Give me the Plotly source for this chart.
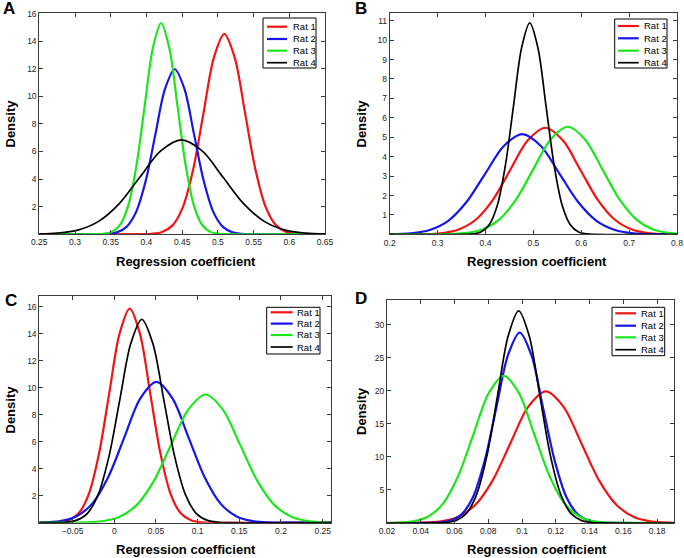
import plotly.graph_objects as go

W, H = 684, 558
FONT = "Arial, 'Liberation Sans', Helvetica, sans-serif"

rat_names = ["Rat 1", "Rat 2", "Rat 3", "Rat 4"]
rat_colors = ["#f01414", "#1616e8", "#1ee61e", "#000000"]
rat_widths = [2.2, 2.2, 2.2, 1.7]

panel_letters = ["A", "B", "C", "D"]
x_title = "Regression coefficient"
y_title = "Density"

# ---------------- Panel A ----------------
a_rat1_x = [0.25, 0.393, 0.4075, 0.422, 0.4365, 0.451, 0.4655, 0.480, 0.4945, 0.509, 0.5235, 0.538, 0.5525, 0.567, 0.5815, 0.596, 0.6105, 0.625, 0.65]
a_rat1_y = [0, 0.004, 0.03, 0.16, 0.64, 1.97, 4.72, 8.82, 12.83, 14.54, 12.83, 8.82, 4.72, 1.97, 0.64, 0.16, 0.03, 0.004, 0]
a_rat2_x = [0.25, 0.3316, 0.3451, 0.3586, 0.3721, 0.3856, 0.3991, 0.4126, 0.4261, 0.4396, 0.4531, 0.4666, 0.4801, 0.4936, 0.5071, 0.5206, 0.5341, 0.5476, 0.65]
a_rat2_y = [0, 0.004, 0.026, 0.13, 0.53, 1.62, 3.89, 7.26, 10.56, 11.97, 10.56, 7.26, 3.89, 1.62, 0.53, 0.13, 0.026, 0.004, 0]
a_rat3_x = [0.25, 0.3285, 0.340, 0.3515, 0.363, 0.3745, 0.386, 0.3975, 0.409, 0.4205, 0.432, 0.4435, 0.455, 0.4665, 0.478, 0.4895, 0.501, 0.5125, 0.65]
a_rat3_y = [0, 0.005, 0.034, 0.17, 0.67, 2.07, 4.97, 9.29, 13.51, 15.31, 13.51, 9.29, 4.97, 2.07, 0.67, 0.17, 0.034, 0.005, 0]
a_rat4_x = [0.25, 0.275, 0.304, 0.333, 0.362, 0.391, 0.420, 0.449, 0.478, 0.507, 0.536, 0.565, 0.594, 0.623, 0.65]
a_rat4_y = [0.02, 0.08, 0.30, 0.93, 2.22, 4.15, 6.04, 6.84, 6.04, 4.15, 2.22, 0.93, 0.30, 0.08, 0.02]
a_xrange = [0.25, 0.65]
a_yrange = [0, 16.05]
a_xticks = [0.25, 0.3, 0.35, 0.4, 0.45, 0.5, 0.55, 0.6, 0.65]
a_xticktext = ["0.25", "0.3", "0.35", "0.4", "0.45", "0.5", "0.55", "0.6", "0.65"]
a_yticks = [2, 4, 6, 8, 10, 12, 14, 16]

# ---------------- Panel B ----------------
b_rat1_x = [0.2, 0.233, 0.2695, 0.306, 0.3425, 0.379, 0.4155, 0.452, 0.4885, 0.525, 0.5615, 0.598, 0.6345, 0.671, 0.7075, 0.744, 0.7805, 0.8]
b_rat1_y = [0, 0.002, 0.012, 0.06, 0.24, 0.74, 1.78, 3.33, 4.84, 5.49, 4.84, 3.33, 1.78, 0.74, 0.24, 0.06, 0.012, 0.005]
b_rat2_x = [0.2, 0.2448, 0.2835, 0.3222, 0.3609, 0.3996, 0.4383, 0.477, 0.5157, 0.5544, 0.5931, 0.6318, 0.6705, 0.7092, 0.7479, 0.7866, 0.8]
b_rat2_y = [0.01, 0.057, 0.23, 0.70, 1.68, 3.13, 4.55, 5.16, 4.55, 3.13, 1.68, 0.70, 0.23, 0.057, 0.011, 0.002, 0.001]
b_rat3_x = [0.2, 0.284, 0.320, 0.356, 0.392, 0.428, 0.464, 0.500, 0.536, 0.572, 0.608, 0.644, 0.680, 0.716, 0.752, 0.788, 0.8]
b_rat3_y = [0, 0.002, 0.012, 0.061, 0.24, 0.75, 1.80, 3.36, 4.89, 5.54, 4.89, 3.36, 1.80, 0.75, 0.24, 0.061, 0.037]
b_rat4_x = [0.2, 0.3565, 0.3735, 0.3905, 0.4075, 0.4245, 0.4415, 0.4585, 0.4755, 0.4925, 0.5095, 0.5265, 0.5435, 0.5605, 0.5775, 0.5945, 0.6115, 0.6285, 0.8]
b_rat4_y = [0, 0.003, 0.024, 0.12, 0.48, 1.47, 3.54, 6.60, 9.61, 10.89, 9.61, 6.60, 3.54, 1.47, 0.48, 0.12, 0.024, 0.003, 0]
b_xrange = [0.2, 0.8]
b_yrange = [0, 11.38]
b_xticks = [0.2, 0.3, 0.4, 0.5, 0.6, 0.7, 0.8]
b_xticktext = ["0.2", "0.3", "0.4", "0.5", "0.6", "0.7", "0.8"]
b_yticks = [1, 2, 3, 4, 5, 6, 7, 8, 9, 10, 11]

# ---------------- Panel C ----------------
c_rat1_x = [-0.09, -0.0795, -0.06725, -0.055, -0.04275, -0.0305, -0.01825, -0.006, 0.00625, 0.0185, 0.03075, 0.043, 0.05525, 0.0675, 0.07975, 0.092, 0.10425, 0.1165, 0.26]
c_rat1_y = [0, 0.005, 0.035, 0.18, 0.70, 2.14, 5.15, 9.61, 13.99, 15.85, 13.99, 9.61, 5.15, 2.14, 0.70, 0.18, 0.035, 0.005, 0]
c_rat2_x = [-0.09, -0.065, -0.04575, -0.0265, -0.00725, 0.012, 0.03125, 0.0505, 0.06975, 0.089, 0.10825, 0.1275, 0.14675, 0.166, 0.18525, 0.2045, 0.26]
c_rat2_y = [0.015, 0.12, 0.46, 1.41, 3.38, 6.32, 9.20, 10.42, 9.20, 6.32, 3.38, 1.41, 0.46, 0.12, 0.023, 0.003, 0]
c_rat3_x = [-0.09, -0.0565, -0.03575, -0.015, 0.00575, 0.0265, 0.04725, 0.068, 0.08875, 0.1095, 0.13025, 0.151, 0.17175, 0.1925, 0.21325, 0.234, 0.25475, 0.26]
c_rat3_y = [0, 0.003, 0.02, 0.105, 0.42, 1.28, 3.08, 5.76, 8.37, 9.49, 8.37, 5.76, 3.08, 1.28, 0.42, 0.105, 0.02, 0.013]
c_rat4_x = [-0.09, -0.0722, -0.05905, -0.0459, -0.03275, -0.0196, -0.00645, 0.0067, 0.01985, 0.033, 0.04615, 0.0593, 0.07245, 0.0856, 0.09875, 0.1119, 0.12505, 0.1382, 0.26]
c_rat4_y = [0, 0.005, 0.033, 0.17, 0.66, 2.04, 4.89, 9.13, 13.28, 15.05, 13.28, 9.13, 4.89, 2.04, 0.66, 0.17, 0.033, 0.005, 0]
c_xrange = [-0.09, 0.26]
c_yrange = [0, 16.76]
c_xticks = [-0.05, 0, 0.05, 0.1, 0.15, 0.2, 0.25]
c_xticktext = ["\u22120.05", "0", "0.05", "0.1", "0.15", "0.2", "0.25"]
c_yticks = [2, 4, 6, 8, 10, 12, 14, 16]

# ---------------- Panel D ----------------
d_rat1_x = [0.02, 0.0301, 0.0406, 0.0511, 0.0616, 0.0721, 0.0826, 0.0931, 0.1036, 0.1141, 0.1246, 0.1351, 0.1456, 0.1561, 0.1666, 0.1771, 0.1876, 0.19]
d_rat1_y = [0, 0.006, 0.044, 0.22, 0.87, 2.69, 6.46, 12.08, 17.57, 19.91, 17.57, 12.08, 6.46, 2.69, 0.87, 0.22, 0.044, 0.029]
d_rat2_x = [0.02, 0.0432, 0.0502, 0.0571, 0.0640, 0.0709, 0.0778, 0.0848, 0.0917, 0.0986, 0.1055, 0.1124, 0.1194, 0.1263, 0.1332, 0.1401, 0.1470, 0.1540, 0.19]
d_rat2_y = [0, 0.009, 0.063, 0.32, 1.27, 3.90, 9.36, 17.49, 25.44, 28.83, 25.44, 17.49, 9.36, 3.90, 1.27, 0.32, 0.063, 0.009, 0]
d_rat3_x = [0.02, 0.02655, 0.0355, 0.04445, 0.0534, 0.06235, 0.0713, 0.08025, 0.0892, 0.09815, 0.1071, 0.11605, 0.1250, 0.13395, 0.1429, 0.15185, 0.1608, 0.19]
d_rat3_y = [0.013, 0.049, 0.25, 0.98, 3.01, 7.23, 13.51, 19.66, 22.28, 19.66, 13.51, 7.23, 3.01, 0.98, 0.25, 0.049, 0.007, 0]
d_rat4_x = [0.02, 0.0483, 0.0545, 0.0607, 0.0669, 0.0731, 0.0794, 0.0856, 0.0918, 0.098, 0.1042, 0.1104, 0.1166, 0.1229, 0.1291, 0.1353, 0.1415, 0.1477, 0.19]
d_rat4_y = [0, 0.01, 0.07, 0.36, 1.41, 4.34, 10.42, 19.47, 28.33, 32.1, 28.33, 19.47, 10.42, 4.34, 1.41, 0.36, 0.07, 0.01, 0]
d_xrange = [0.02, 0.19]
d_yrange = [0, 33.8]
d_xticks = [0.02, 0.04, 0.06, 0.08, 0.1, 0.12, 0.14, 0.16, 0.18]
d_xticktext = ["0.02", "0.04", "0.06", "0.08", "0.1", "0.12", "0.14", "0.16", "0.18"]
d_yticks = [5, 10, 15, 20, 25, 30]

panels = [
    dict(xs=[a_rat1_x, a_rat2_x, a_rat3_x, a_rat4_x], ys=[a_rat1_y, a_rat2_y, a_rat3_y, a_rat4_y],
         xr=a_xrange, yr=a_yrange, xt=a_xticks, xtt=a_xticktext, yt=a_yticks),
    dict(xs=[b_rat1_x, b_rat2_x, b_rat3_x, b_rat4_x], ys=[b_rat1_y, b_rat2_y, b_rat3_y, b_rat4_y],
         xr=b_xrange, yr=b_yrange, xt=b_xticks, xtt=b_xticktext, yt=b_yticks),
    dict(xs=[c_rat1_x, c_rat2_x, c_rat3_x, c_rat4_x], ys=[c_rat1_y, c_rat2_y, c_rat3_y, c_rat4_y],
         xr=c_xrange, yr=c_yrange, xt=c_xticks, xtt=c_xticktext, yt=c_yticks),
    dict(xs=[d_rat1_x, d_rat2_x, d_rat3_x, d_rat4_x], ys=[d_rat1_y, d_rat2_y, d_rat3_y, d_rat4_y],
         xr=d_xrange, yr=d_yrange, xt=d_xticks, xtt=d_xticktext, yt=d_yticks),
]

# Layout geometry in pixels: plot box (left, right, top, bottom)
boxes = [(39.3, 325.0, 13.0, 234.2), (389.7, 677.0, 13.3, 234.4),
         (39.3, 331.0, 296.3, 522.7), (387.0, 674.0, 299.7, 523.0)]
letter_pos = [(9, 8), (361, 8), (11, 300), (361, 298)]
xtitle_pos = [(186, 261), (537, 261), (186, 549), (537, 549)]
ytitle_pos = [(10, 123.5), (361, 123.5), (10, 409.5), (361, 411)]
# legend box (left, right, top, bottom), sample x0, x1, text x, row ys
legends = [
    (263, 316, 18, 68, 267, 287, 291, [26.7, 39.0, 50.7, 62.7]),
    (614.7, 667, 19, 68, 618, 638.7, 642, [26.0, 38.3, 50.7, 62.7]),
    (266.7, 320, 307.3, 354, 270.7, 292.7, 294.5, [312.3, 323.6, 335.0, 347.0]),
    (612, 664.7, 307.3, 355.7, 615.3, 636, 639, [313.3, 325.7, 337.3, 349.7]),
]


def px(x):
    return x / W


def py(y):
    return 1 - y / H


fig = go.Figure()
layout_axes = {}
for i, p in enumerate(panels):
    suf = "" if i == 0 else str(i + 1)
    for j in range(4):
        fig.add_trace(go.Scatter(
            x=p["xs"][j], y=p["ys"][j], mode="lines", name=rat_names[j],
            line=dict(color=rat_colors[j], width=rat_widths[j], shape="spline", smoothing=0.9),
            xaxis="x" + suf, yaxis="y" + suf, showlegend=False, hoverinfo="skip"))
    l, r, t, b = boxes[i]
    common = dict(showline=True, linecolor="#3a3a3a", linewidth=1, mirror="ticks",
                  ticks="inside", ticklen=4, tickcolor="#3a3a3a", tickwidth=1,
                  showgrid=False, zeroline=False, automargin=False, fixedrange=True,
                  tickfont=dict(family=FONT, size=8.5, color="#222"))
    layout_axes["xaxis" + suf] = dict(common, domain=[px(l), px(r)], range=p["xr"],
                                      anchor="y" + suf, tickmode="array",
                                      tickvals=p["xt"], ticktext=p["xtt"])
    layout_axes["yaxis" + suf] = dict(common, domain=[py(b), py(t)], range=p["yr"],
                                      anchor="x" + suf, tickmode="array",
                                      tickvals=p["yt"], ticktext=[str(v) for v in p["yt"]])

annotations = []
shapes = []
for i in range(4):
    lx, ly = letter_pos[i]
    annotations.append(dict(text="<b>%s</b>" % panel_letters[i], x=px(lx), y=py(ly),
                            xref="paper", yref="paper", showarrow=False,
                            xanchor="center", yanchor="middle",
                            font=dict(family=FONT, size=17, color="#000")))
    tx, ty = xtitle_pos[i]
    annotations.append(dict(text="<b>%s</b>" % x_title, x=px(tx), y=py(ty),
                            xref="paper", yref="paper", showarrow=False,
                            xanchor="center", yanchor="middle",
                            font=dict(family=FONT, size=13, color="#000")))
    yx, yy = ytitle_pos[i]
    annotations.append(dict(text="<b>%s</b>" % y_title, x=px(yx), y=py(yy),
                            xref="paper", yref="paper", showarrow=False, textangle=-90,
                            xanchor="center", yanchor="middle",
                            font=dict(family=FONT, size=13, color="#000")))
    L, R, T, B, s0, s1, txx, rows = legends[i]
    shapes.append(dict(type="rect", xref="paper", yref="paper",
                       x0=px(L), x1=px(R), y0=py(B), y1=py(T),
                       fillcolor="white", line=dict(color="#000", width=1), layer="above"))
    for j in range(4):
        shapes.append(dict(type="line", xref="paper", yref="paper",
                           x0=px(s0), x1=px(s1), y0=py(rows[j]), y1=py(rows[j]),
                           line=dict(color=rat_colors[j], width=rat_widths[j]), layer="above"))
        annotations.append(dict(text=rat_names[j], x=px(txx), y=py(rows[j]),
                                xref="paper", yref="paper", showarrow=False,
                                xanchor="left", yanchor="middle",
                                font=dict(family=FONT, size=9.5, color="#000")))

fig.update_layout(
    template="none",
    width=W, height=H, autosize=False,
    margin=dict(l=0, r=0, t=0, b=0, pad=0),
    paper_bgcolor="white", plot_bgcolor="white",
    showlegend=False,
    annotations=annotations, shapes=shapes,
    **layout_axes,
)

fig.write_html("out.html",
               config={"displayModeBar": False, "staticPlot": True},
               post_script="document.body.style.margin='0';document.body.style.padding='0';"
                           "document.body.style.overflow='hidden';")
